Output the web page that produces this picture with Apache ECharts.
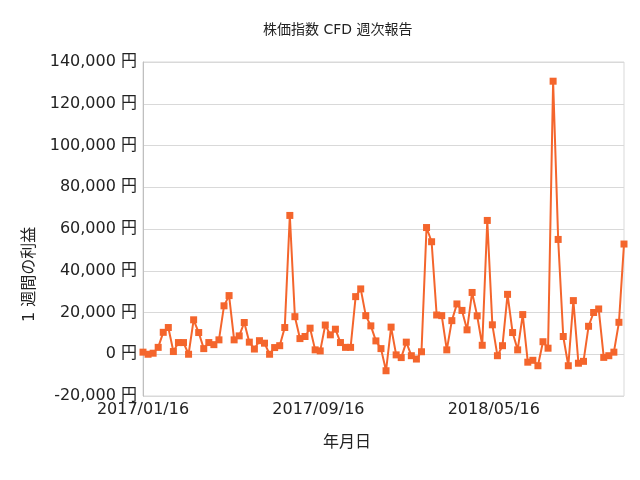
<!DOCTYPE html>
<html>
<head>
<meta charset="utf-8">
<script src="https://cdn.jsdelivr.net/npm/echarts@6/dist/echarts.min.js"></script>
<style>
  html, body { margin: 0; padding: 0; background: #fff; }
  #chart { width: 640px; height: 480px; }
</style>
</head>
<body>
<div id="chart"></div>
<script>
// 週次データ (2017/01/16 から毎週)
const weeklyProfit = [
  1000, 0, 500, 3300, 10500, 12800, 1300, 5600, 5600, 0,
  16500, 10400, 2700, 5600, 4600, 6900, 23200, 28100, 6900, 8800,
  15200, 5800, 2500, 6500, 5300, 0, 3200, 4100, 12800, 66500,
  18000, 7500, 8500, 12500, 2100, 1600, 14000, 9300, 12000, 5600,
  3300, 3300, 27600, 31300, 18500, 13600, 6400, 2700, -7900, 13000,
  -300, -1600, 5800, -700, -2300, 1200, 60700, 53900, 18800, 18500,
  2100, 16100, 24100, 21000, 11700, 29600, 18400, 4300, 64100, 14100,
  -700, 4100, 28700, 10400, 2100, 19000, -3800, -2900, -5500, 6000,
  2900, 130800, 55000, 8500, -5500, 25700, -4300, -3400, 13400, 20000,
  21700, -1500, -700, 1000, 15300, 52800
];
// 経過日数 (週ごと)
const dayOffsets = weeklyProfit.map((_, i) => i * 7);
const xTickLabels = ["2017/01/16", "2017/09/16", "2018/05/16"];
const xTickStep = 242.5;

const font = "'DejaVu Sans', 'Noto Sans CJK JP', sans-serif";
const lineColor = "#f4652c";

const chart = echarts.init(document.getElementById("chart"));

const option = {
  animation: false,
  textStyle: { fontFamily: font },
  grid: {
    left: 143,
    right: 16,
    top: 62,
    bottom: 84,
    show: true,
    borderColor: "#d9d9d9",
    borderWidth: 1,
  },
  graphic: [
    {
      type: "text",
      left: 263,
      top: 23,
      style: { text: "株価指数 CFD 週次報告", font: "14px " + font, fill: "#222" },
    },
    {
      type: "text",
      x: 22,
      y: 322,
      rotation: Math.PI / 2,
      style: { text: "1 週間の利益", font: "16px " + font, fill: "#222" },
    },
    {
      type: "text",
      left: 323,
      top: 435,
      style: { text: "年月日", font: "16px " + font, fill: "#222" },
    },
  ],
  xAxis: {
    type: "value",
    min: 0,
    max: dayOffsets[dayOffsets.length - 1],
    interval: xTickStep,
    axisLine: { show: false },
    axisTick: { show: false },
    splitLine: { show: false },
    axisLabel: {
      fontSize: 16,
      color: "#222",
      margin: 6,
      showMaxLabel: false,
      formatter: (v) => xTickLabels[Math.round(v / xTickStep)] || "",
    },
  },
  yAxis: {
    type: "value",
    min: -20000,
    max: 140000,
    interval: 20000,
    axisLine: { show: true, lineStyle: { color: "#bfbfbf" } },
    axisTick: { show: false },
    splitLine: { lineStyle: { color: "#d9d9d9" } },
    axisLabel: {
      fontSize: 16,
      color: "#222",
      margin: 6,
      formatter: (v) => v.toLocaleString("en-US") + " 円",
    },
  },
  series: [
    {
      type: "line",
      data: dayOffsets.map((d, i) => [d, weeklyProfit[i]]),
      symbol: "rect",
      symbolSize: 7,
      showAllSymbol: true,
      lineStyle: { color: lineColor, width: 2 },
      itemStyle: { color: lineColor },
    },
  ],
};

chart.setOption(option);
</script>
</body>
</html>
